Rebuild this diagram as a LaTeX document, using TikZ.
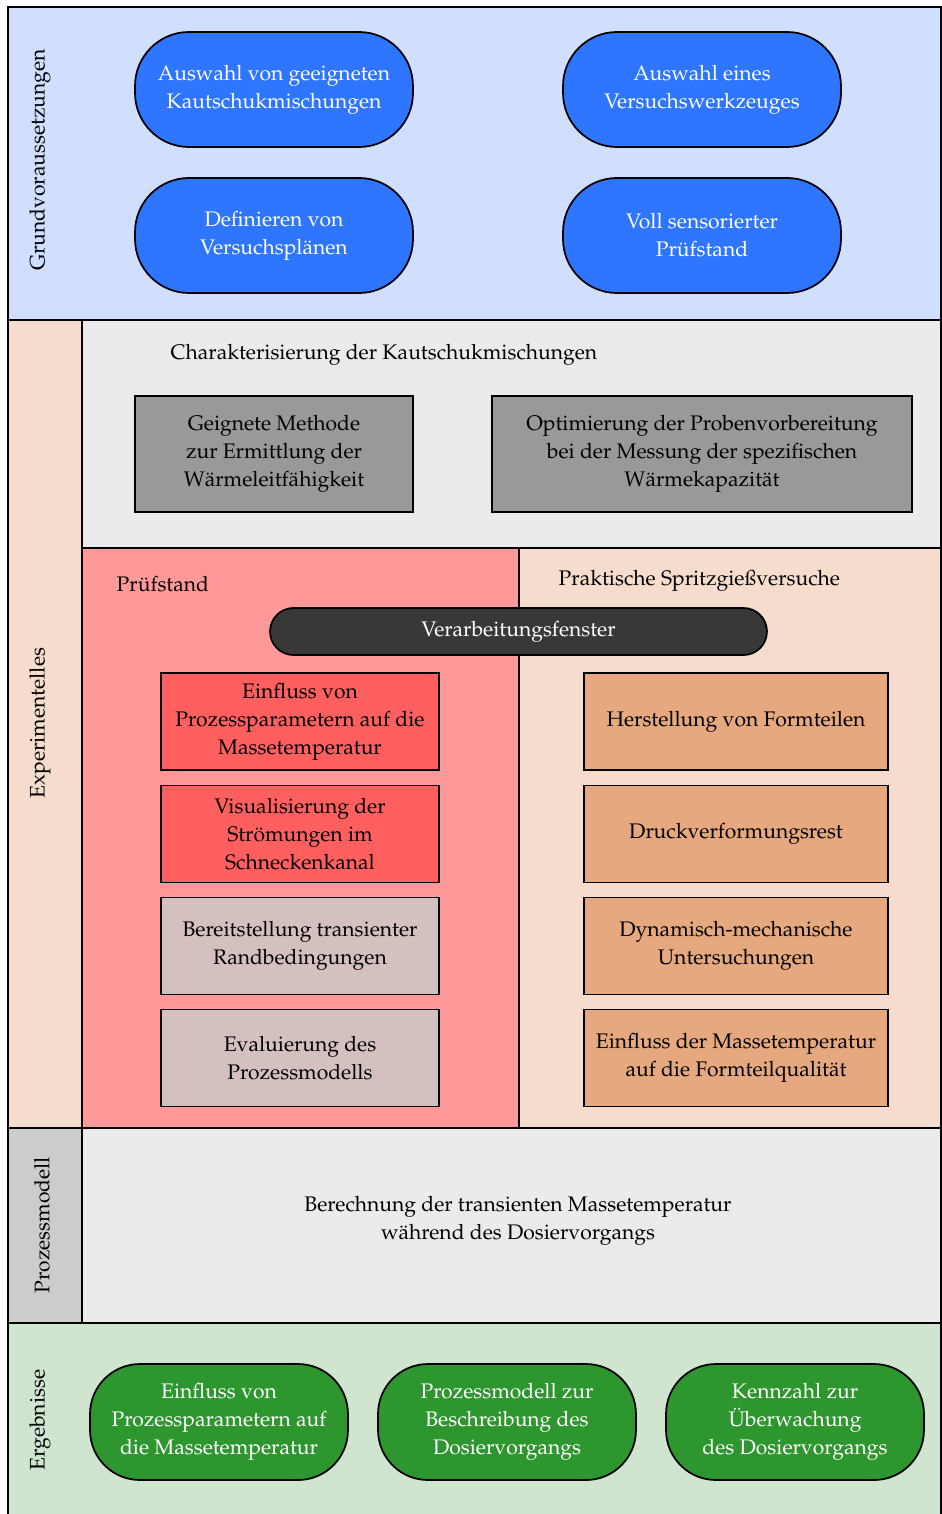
\documentclass[tikz,border=0pt]{standalone}
\usepackage[T1]{fontenc}
\usepackage{mathpazo}
\usepackage{tikz}
\usetikzlibrary{shapes}

\definecolor{bgblue}{RGB}{207,223,253}
\definecolor{pillblue}{RGB}{46,117,255}
\definecolor{bgpeach}{RGB}{245,220,204}
\definecolor{bgpink}{RGB}{255,153,153}
\definecolor{boxred}{RGB}{255,95,95}
\definecolor{boxrose}{RGB}{213,192,192}
\definecolor{boxorange}{RGB}{230,168,126}
\definecolor{boxgray}{RGB}{153,153,153}
\definecolor{pilldark}{RGB}{56,56,56}
\definecolor{bglight}{RGB}{235,235,235}
\definecolor{bgmid}{RGB}{204,204,204}
\definecolor{bggreen}{RGB}{207,229,207}
\definecolor{pillgreen}{RGB}{46,150,46}

\begin{document}
\begin{tikzpicture}[x=0.02cm,y=-0.02cm,line width=1pt,
  every node/.style={font=\fontsize{12}{15.9}\selectfont,align=center,line width=1pt},
  sidelabel/.style={rotate=90},
  bluepill/.style={draw=black,fill=pillblue,text=white,rounded corners=1.08cm,minimum width=5.56cm,minimum height=2.3cm},
  graybox/.style={draw=black,fill=boxgray,minimum height=2.32cm},
  redbox/.style={draw=black,fill=boxred,minimum width=5.56cm,minimum height=1.94cm},
  rosebox/.style={draw=black,fill=boxrose,minimum width=5.56cm,minimum height=1.94cm},
  orangebox/.style={draw=black,fill=boxorange,minimum width=6.08cm,minimum height=1.94cm},
  greenpill/.style={draw=black,fill=pillgreen,text=white,rounded corners=1.0cm,minimum width=5.16cm,minimum height=2.32cm}]
\useasboundingbox (0,0) rectangle (942,1514);
% Areas
\draw [fill=bgblue] (8,7) rectangle (941,320);
\draw [fill=bgpeach] (8,320) rectangle (82,1128);
\draw [fill=bglight] (82,320) rectangle (941,548);
\draw [fill=bgpink] (82,548) rectangle (519,1128);
\draw [fill=bgpeach] (519,548) rectangle (941,1128);
\draw [fill=bgmid] (8,1128) rectangle (82,1323);
\draw [fill=bglight] (82,1128) rectangle (941,1323);
\draw [fill=bggreen] (8,1323) rectangle (941,1518);
% Area Labels
\node at (40,160) [sidelabel] (LabelGrund) {Grundvoraussetzungen};
\node at (40,723) [sidelabel] (LabelExp) {Experimentelles};
\node at (42,1225) [sidelabel] (LabelModell) {Prozessmodell};
\node at (40,1420) [sidelabel] (LabelErg) {Ergebnisse};
\node at (164,355) [anchor=west] (TitleCharak) {Charakterisierung der Kautschukmischungen};
\node at (110,584) [anchor=west] (TitlePruef) {Pr\"ufstand};
\node at (552,581) [anchor=west] (TitlePrakt) {Praktische Spritzgie\ss versuche};
% Grundvoraussetzungen
\node at (274,89.5) [bluepill] (Grund1) {Auswahl von geeigneten\\Kautschukmischungen};
\node at (702,89.5) [bluepill] (Grund2) {Auswahl eines\\Versuchswerkzeuges};
\node at (274,235.5) [bluepill] (Grund3) {Definieren von\\Versuchspl\"anen};
\node at (702,235.5) [bluepill] (Grund4) {Voll sensorierter\\Pr\"ufstand};
% Charakterisierung
\node at (274,454) [graybox,minimum width=5.56cm] (Charak1) {Geignete Methode\\zur Ermittlung der\\W\"armeleitf\"ahigkeit};
\node at (702,454) [graybox,minimum width=8.4cm] (Charak2) {Optimierung der Probenvorbereitung\\bei der Messung der spezifischen\\W\"armekapazit\"at};
% Verarbeitungsfenster
\node at (518.5,631.5) [draw=black,fill=pilldark,text=white,rounded corners=0.47cm,minimum width=9.94cm,minimum height=0.94cm] (Fenster) {Verarbeitungsfenster};
% Pruefstand
\node at (300,721.5) [redbox] (Pruef1) {Einfluss von\\Prozessparametern auf die\\Massetemperatur};
\node at (300,834) [redbox] (Pruef2) {Visualisierung der\\Str\"omungen im\\Schneckenkanal};
\node at (300,946) [rosebox] (Pruef3) {Bereitstellung transienter\\Randbedingungen};
\node at (300,1058) [rosebox] (Pruef4) {Evaluierung des\\Prozessmodells};
% Spritzgiessversuche
\node at (736,721.5) [orangebox] (Prakt1) {Herstellung von Formteilen};
\node at (736,834) [orangebox] (Prakt2) {Druckverformungsrest};
\node at (736,946) [orangebox] (Prakt3) {Dynamisch-mechanische\\Untersuchungen};
\node at (736,1058) [orangebox] (Prakt4) {Einfluss der Massetemperatur\\auf die Formteilqualit\"at};
% Prozessmodell
\node at (518,1221) (Modell) {Berechnung der transienten Massetemperatur\\w\"ahrend des Dosiervorgangs};
% Ergebnisse
\node at (219,1422) [greenpill] (Erg1) {Einfluss von\\Prozessparametern auf\\die Massetemperatur};
\node at (507,1422) [greenpill] (Erg2) {Prozessmodell zur\\Beschreibung des\\Dosiervorgangs};
\node at (795,1422) [greenpill] (Erg3) {Kennzahl zur\\\"Uberwachung\\des Dosiervorgangs};

\end{tikzpicture}
\end{document}
